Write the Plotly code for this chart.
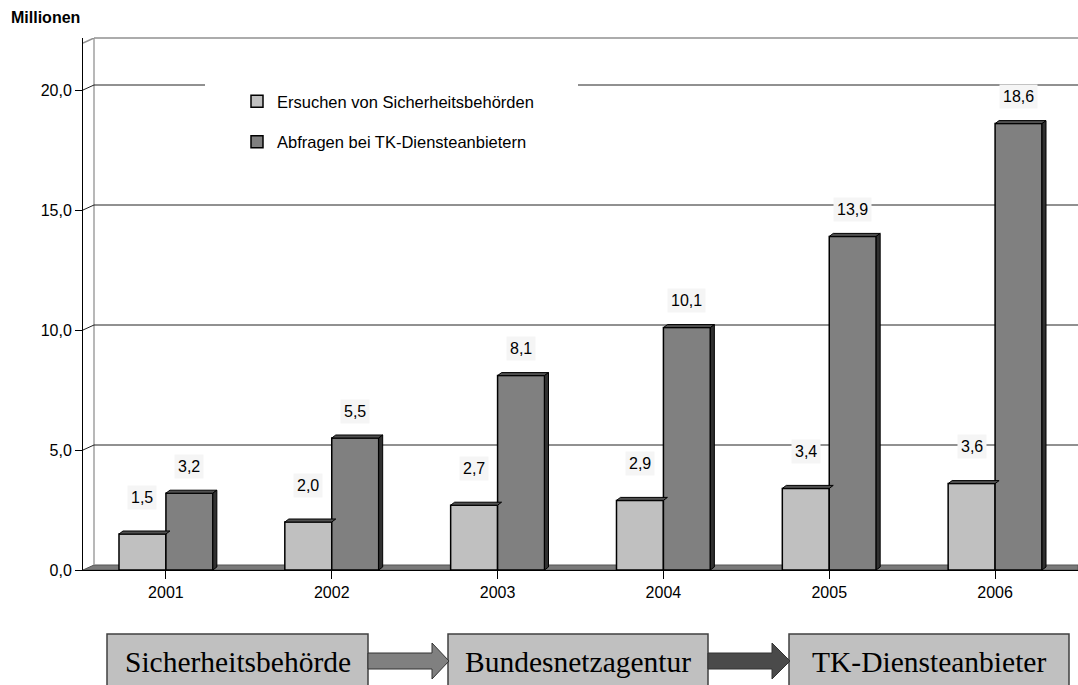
import plotly.graph_objects as go

# data
years = ["2001", "2002", "2003", "2004", "2005", "2006"]
ersuchen = [1.5, 2.0, 2.7, 2.9, 3.4, 3.6]
abfragen = [3.2, 5.5, 8.1, 10.1, 13.9, 18.6]
series_names = ["Ersuchen von Sicherheitsbehörden", "Abfragen bei TK-Diensteanbietern"]
y_ticks = [0, 5, 10, 15, 20]
flow_boxes = ["Sicherheitsbehörde", "Bundesnetzagentur", "TK-Diensteanbieter"]

FONT = "Liberation Sans, Arial, sans-serif"
LIGHT = "#c0c0c0"
DARK = "#808080"

W, H = 1078, 685
ML, MR, MT, MB = 83, 0, 38, 115
PX_PER_UNIT = 24.0
y_top = (H - MT - MB) / PX_PER_UNIT
cat_px = (W - ML - MR) / len(years)

BARGAP = 0.434
bw = (1 - BARGAP) / 2
# 3d depth of bars and walls (in axis units)
bdx, bdy = 4 / cat_px, 3 / PX_PER_UNIT
wdx, wdy = 11 / cat_px, 5 / PX_PER_UNIT


def px(x, y):
    """pixel -> paper coords"""
    return (x - ML) / (W - ML - MR), (H - MB - y) / (H - MT - MB)


fig = go.Figure()
fig.add_trace(go.Bar(x=list(range(len(years))), y=ersuchen, name=series_names[0],
                     marker=dict(color=LIGHT, line=dict(color="black", width=1.5)),
                     legendgroup="a"))
fig.add_trace(go.Bar(x=list(range(len(years))), y=abfragen, name=series_names[1],
                     marker=dict(color=DARK, line=dict(color="black", width=1.5)),
                     legendgroup="b"))

shapes = []
# floor
shapes.append(dict(type="path", xref="x", yref="y", layer="below",
                   path=f"M -0.5,0 L {-0.5 + wdx},{wdy} L 5.5,{wdy} L 5.5,0 Z",
                   fillcolor="#7a7a7a", line=dict(color="#555", width=1)))
# back wall vertical + top
shapes.append(dict(type="line", xref="x", yref="y", layer="below",
                   x0=-0.5 + wdx, x1=-0.5 + wdx, y0=wdy, y1=y_top,
                   line=dict(color="#a0a0a0", width=1.5)))
shapes.append(dict(type="line", xref="x", yref="paper", layer="below",
                   x0=-0.5 + wdx, x1=5.5, y0=1, y1=1,
                   line=dict(color="#909090", width=1.5)))
shapes.append(dict(type="line", xref="x", yref="y", layer="below",
                   x0=-0.5, x1=-0.5 + wdx, y0=y_top - wdy, y1=y_top,
                   line=dict(color="#909090", width=1.5)))
# gridlines on back wall
for v in y_ticks[1:]:
    shapes.append(dict(type="line", xref="x", yref="y", layer="below",
                       x0=-0.5 + wdx, x1=5.5, y0=v + wdy, y1=v + wdy,
                       line=dict(color="#222", width=1)))
    shapes.append(dict(type="line", xref="x", yref="y", layer="below",
                       x0=-0.5, x1=-0.5 + wdx, y0=v, y1=v + wdy,
                       line=dict(color="#222", width=1)))
# white legend background over the top gridline
lx0, ly0 = px(205, 80)
lx1, ly1 = px(578, 150)
shapes.append(dict(type="rect", xref="paper", yref="paper", layer="above",
                   x0=lx0, x1=lx1, y0=ly1, y1=ly0, fillcolor="white", line=dict(width=0)))

# 3d tops and sides of bars
for i in range(len(years)):
    for k, vals in enumerate([ersuchen, abfragen]):
        v = vals[i]
        x0 = i - bw + k * bw
        x1 = x0 + bw
        shapes.append(dict(type="path", xref="x", yref="y", layer="above",
                           path=f"M {x0},{v} L {x0 + bdx},{v + bdy} L {x1 + bdx},{v + bdy} L {x1},{v} Z",
                           fillcolor="#505050", line=dict(color="black", width=1)))
        if k == 1:
            shapes.append(dict(type="path", xref="x", yref="y", layer="above",
                               path=f"M {x1},0 L {x1},{v} L {x1 + bdx},{v + bdy} L {x1 + bdx},{bdy} Z",
                               fillcolor="#303030", line=dict(color="black", width=1)))

annotations = []
for i in range(len(years)):
    for k, vals in enumerate([ersuchen, abfragen]):
        v = vals[i]
        annotations.append(dict(x=i - bw / 2 + k * bw, y=v, xref="x", yref="y",
                                text=f"{v:.1f}".replace(".", ","), showarrow=False,
                                yshift=37 if k == 0 else 27, xanchor="center", yanchor="middle",
                                bgcolor="#f5f5f5", borderpad=3,
                                font=dict(family=FONT, size=16, color="black")))

annotations.append(dict(x=px(9, 18)[0], y=px(9, 18)[1], xref="paper", yref="paper",
                        text="<b>Millionen</b>", showarrow=False, xanchor="left",
                        yanchor="middle", font=dict(family=FONT, size=16, color="black")))

# flow boxes and arrows at the bottom
box_px = [(107, 368), (448, 708), (789, 1069)]
box_top, box_bot = 634, 700
for (bx0, bx1), label in zip(box_px, flow_boxes):
    x0, y0 = px(bx0, box_top)
    x1, y1 = px(bx1, box_bot)
    shapes.append(dict(type="rect", xref="paper", yref="paper", x0=x0, x1=x1, y0=y1, y1=y0,
                       fillcolor=LIGHT, line=dict(color="#404040", width=1.5)))
    cx, cy = px((bx0 + bx1) / 2, 662)
    annotations.append(dict(x=cx, y=cy, xref="paper", yref="paper", text=label, showarrow=False,
                            xanchor="center", yanchor="middle",
                            font=dict(family="Liberation Serif, Times New Roman, serif", size=29.5,
                                      color="black")))

arrow_px = [(368, 432, 449, "#808080"), (708, 772, 790, "#4a4a4a")]
for s0, h0, tip, col in arrow_px:
    pts = [(s0, 653), (h0, 653), (h0, 643), (tip, 661), (h0, 679), (h0, 669), (s0, 669)]
    path = "M " + " L ".join(f"{px(a, b)[0]},{px(a, b)[1]}" for a, b in pts) + " Z"
    shapes.append(dict(type="path", xref="paper", yref="paper", path=path,
                       fillcolor=col, line=dict(color="#333", width=1)))

lgx, lgy = px(237, 84)
fig.update_layout(
    width=W, height=H,
    margin=dict(l=ML, r=MR, t=MT, b=MB),
    plot_bgcolor="white", paper_bgcolor="white",
    barmode="group", bargap=BARGAP, bargroupgap=0,
    separators=",.",
    font=dict(family=FONT, size=16, color="black"),
    showlegend=True,
    legend=dict(x=lgx, y=lgy, xanchor="left", yanchor="top", bgcolor="rgba(0,0,0,0)",
                font=dict(family=FONT, size=16.5), tracegroupgap=16, itemwidth=30),
    xaxis=dict(range=[-0.5, 5.5], tickvals=list(range(len(years))), ticktext=years,
               showgrid=False, zeroline=False, showline=True, linecolor="black",
               ticks="outside", tickson="boundaries", ticklen=8, tickcolor="black",
               tickfont=dict(family=FONT, size=16)),
    yaxis=dict(range=[0, y_top], tickvals=y_ticks, tickformat=".1f",
               showgrid=False, zeroline=False, showline=True, linecolor="black",
               ticks="outside", ticklen=7, tickcolor="black",
               tickfont=dict(family=FONT, size=16)),
    shapes=shapes,
    annotations=annotations,
)

fig.write_html("out.html", config={"displayModeBar": False},
               post_script="document.body.style.margin='0';")
